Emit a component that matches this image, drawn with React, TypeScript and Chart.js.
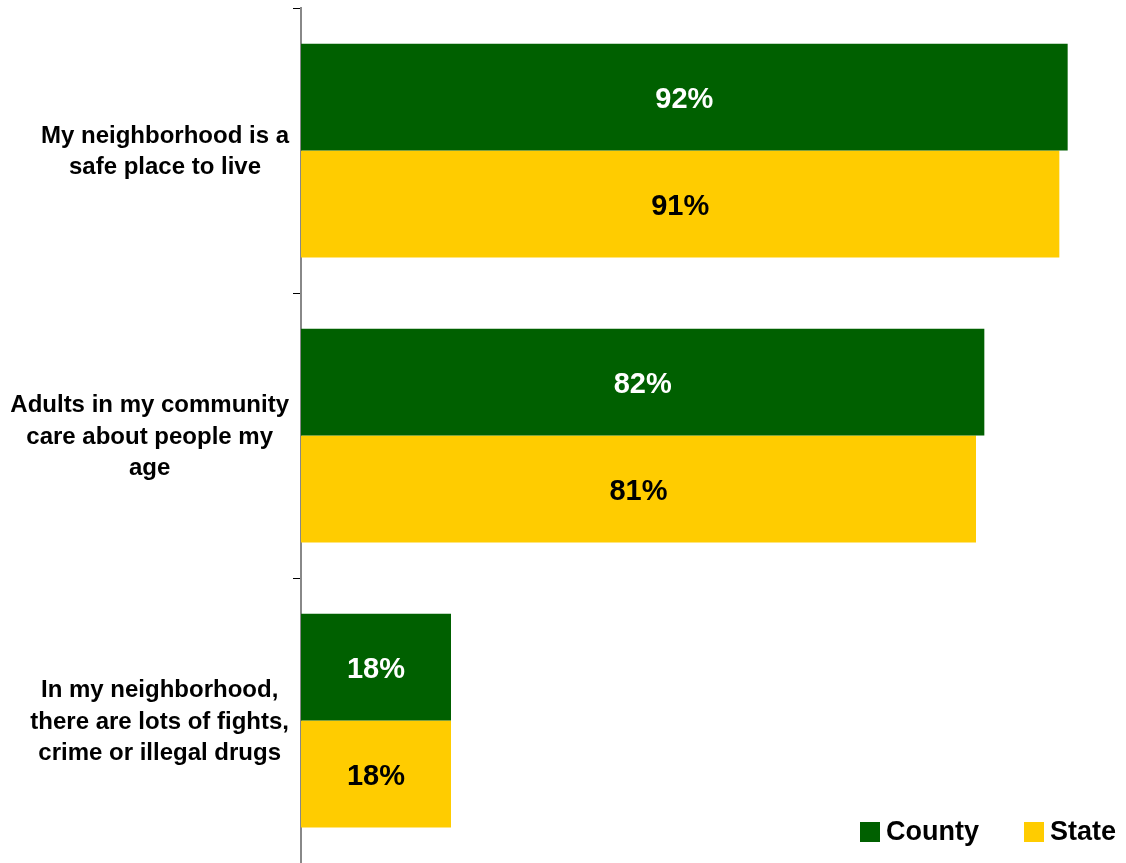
import React, { useEffect, useRef } from "react";
import { Chart, registerables } from "chart.js";

Chart.register(...registerables);

const categories: string[][] = [
  ["My neighborhood is a", "safe place to live"],
  ["Adults in my community", "care about people my", "age"],
  ["In my neighborhood,", "there are lots of fights,", "crime or illegal drugs"],
];
const seriesNames = ["County", "State"];
const countyValues = [92, 82, 18];
const stateValues = [91, 81, 18];
const seriesColors = ["#006000", "#FFCC00"];
const labelColors = ["#FFFFFF", "#000000"];

const FONT = '"Liberation Sans", Arial, sans-serif';

const barLabelPlugin = {
  id: "barLabels",
  afterDatasetsDraw(chart: any) {
    const ctx = chart.ctx;
    ctx.save();
    ctx.font = `bold 29px ${FONT}`;
    ctx.textAlign = "center";
    ctx.textBaseline = "middle";
    chart.data.datasets.forEach((ds: any, di: number) => {
      const meta = chart.getDatasetMeta(di);
      meta.data.forEach((el: any, i: number) => {
        const v = ds.data[i];
        ctx.fillStyle = labelColors[di];
        ctx.fillText(`${Math.round(v)}%`, (el.x + el.base) / 2, el.y + 3);
      });
    });
    ctx.restore();
  },
};

// Category labels: block right-aligned to the axis, lines centred within the block
const categoryLabelPlugin = {
  id: "categoryLabels",
  afterDraw(chart: any) {
    const ctx = chart.ctx;
    const yScale = chart.scales.y;
    ctx.save();
    ctx.font = `bold 24px ${FONT}`;
    ctx.fillStyle = "#000";
    ctx.textAlign = "center";
    ctx.textBaseline = "middle";
    const lh = 31.5;
    const rightEdge = yScale.right - 12;
    categories.forEach((lines, i) => {
      const yc = yScale.getPixelForTick(i) + 1.5;
      const widest = Math.max(...lines.map((l) => ctx.measureText(l).width));
      const cx = rightEdge - widest / 2;
      lines.forEach((line, k) => {
        ctx.fillText(line, cx, yc + (k - (lines.length - 1) / 2) * lh);
      });
    });
    ctx.restore();
  },
};

const legendPlugin = {
  id: "cornerLegend",
  afterDraw(chart: any) {
    const ctx = chart.ctx;
    ctx.save();
    ctx.font = `bold 27px ${FONT}`;
    ctx.textBaseline = "middle";
    ctx.textAlign = "left";
    const y = chart.height - 31;
    const starts = [chart.width - 266, chart.width - 102];
    seriesNames.forEach((name, i) => {
      const x = starts[i];
      ctx.fillStyle = seriesColors[i];
      ctx.fillRect(x, y - 10, 20, 20);
      ctx.fillStyle = "#000";
      ctx.fillText(name, x + 26, y + 1);
    });
    ctx.restore();
  },
};

export default function App() {
  const ref = useRef<HTMLCanvasElement | null>(null);
  useEffect(() => {
    if (!ref.current) return;
    const chart = new Chart(ref.current, {
      type: "bar",
      data: {
        labels: categories,
        datasets: [
          {
            label: seriesNames[0],
            data: countyValues,
            backgroundColor: seriesColors[0],
            categoryPercentage: 0.75,
            barPercentage: 1,
          },
          {
            label: seriesNames[1],
            data: stateValues,
            backgroundColor: seriesColors[1],
            categoryPercentage: 0.75,
            barPercentage: 1,
          },
        ],
      },
      options: {
        indexAxis: "y",
        responsive: false,
        animation: false,
        layout: { padding: { top: 8, right: 0, bottom: 0, left: 0 } },
        plugins: { legend: { display: false }, tooltip: { enabled: false } },
        scales: {
          x: { display: false, min: 0, max: 99 },
          y: {
            afterFit: (scale: any) => {
              scale.width = 301;
              scale.paddingTop = 0;
              scale.paddingBottom = 0;
            },
            grid: {
              offset: true,
              drawOnChartArea: false,
              drawTicks: true,
              tickLength: 8,
              tickColor: "#000",
              lineWidth: 1,
            },
            border: { display: true, color: "#888", width: 2 },
            ticks: { display: false },
          },
        },
      },
      plugins: [barLabelPlugin, categoryLabelPlugin, legendPlugin],
    });
    return () => chart.destroy();
  }, []);
  return (
    <div style={{ position: "fixed", left: 0, top: 0, width: 1126, height: 863, background: "#fff" }}>
      <canvas ref={ref} width={1126} height={863} style={{ display: "block" }} />
    </div>
  );
}
